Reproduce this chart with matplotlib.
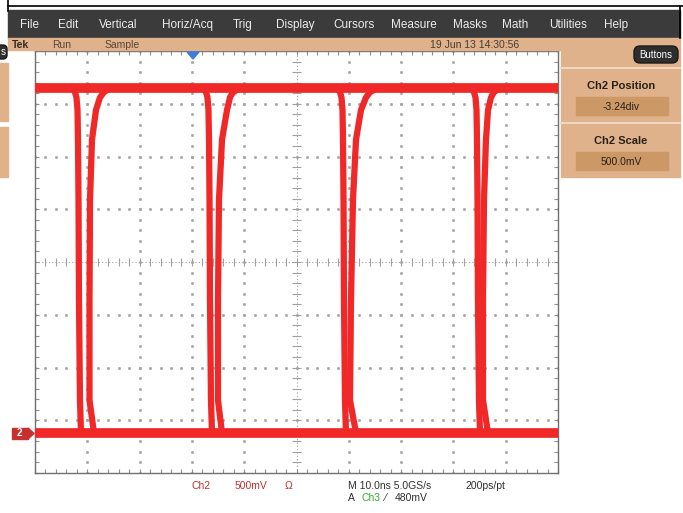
import matplotlib.pyplot as plt
from matplotlib.patches import Rectangle, FancyBboxPatch, Polygon
import numpy as np

# scope settings
time_per_div = 10.0    # ns
volts_per_div = 0.5    # V
ch2_position = -3.24   # div

# signal levels, V
high_level = 3.27
low_level = 0.0

# voltages along each edge (top to bottom), shared by all pulses
edge_volts = [3.27, 3.23, 3.18, 3.06, 2.78, 2.21, 1.26, 0.31, 0.0]

# falling edge times per pulse, ns
fall_times = [
    [7.07, 7.65, 7.93, 8.13, 8.22, 8.32, 8.41, 8.60, 8.80],
    [32.12, 32.70, 32.98, 33.17, 33.27, 33.37, 33.46, 33.65, 33.84],
    [57.74, 58.32, 58.60, 58.80, 58.89, 58.99, 59.08, 59.27, 59.46],
    [83.37, 83.94, 84.23, 84.42, 84.51, 84.61, 84.70, 84.89, 85.09],
]
# rising edge times per pulse, ns
rise_times = [
    [14.34, 13.19, 12.43, 11.66, 10.90, 10.52, 10.42, 10.42, 11.28],
    [39.39, 37.86, 37.28, 36.71, 35.76, 35.18, 34.99, 34.99, 35.76],
    [65.58, 64.05, 63.29, 62.33, 61.38, 60.80, 60.42, 60.23, 61.38],
    [88.91, 87.76, 87.19, 86.62, 86.23, 85.85, 85.66, 85.66, 86.62],
]

menu_items = ['File', 'Edit', 'Vertical', 'Horiz/Acq', 'Trig', 'Display',
              'Cursors', 'Measure', 'Masks', 'Math', 'Utilities', 'Help']
menu_x = [20, 58, 99, 162, 233, 276, 333, 391, 453, 502, 549, 604]

trace_red = '#f02828'
tan = '#dfb28c'
tan_dark = '#cc9866'
font = 'Liberation Sans'


def to_div(volts):
    return np.array(volts) / volts_per_div + ch2_position


fig = plt.figure(figsize=(6.83, 5.13), dpi=100)
fig.patch.set_facecolor('white')

# graticule axes, 10 x 8 divisions
ax = fig.add_axes([35 / 683, 40 / 513, 523 / 683, 422 / 513])
ax.set_xlim(0, 10)
ax.set_ylim(-4, 4)
ax.set_facecolor('white')
for s in ax.spines.values():
    s.set_color('#707070')
    s.set_linewidth(1.0)
ax.set_xticks(np.arange(0, 10.01, 0.2))
ax.set_yticks(np.arange(-4, 4.01, 0.2))
ax.tick_params(direction='in', length=3, width=0.8, color='#909090',
               top=True, right=True, labelbottom=False, labelleft=False)

# dotted grid
dots = np.arange(0, 10.01, 0.2)
dots_y = np.arange(-4, 4.01, 0.2)
for gy in range(-3, 4):
    if gy != 0:
        ax.plot(dots, np.full_like(dots, gy), ls='none', marker='s',
                ms=1.0, color='#a8a8a8', zorder=1)
for gx in range(1, 10):
    if gx != 5:
        ax.plot(np.full_like(dots_y, gx), dots_y, ls='none', marker='s',
                ms=1.0, color='#a8a8a8', zorder=1)
# center lines with ticks
ax.axhline(0, color='#a0a0a0', lw=0.8, ls=(0, (1, 2)), zorder=1)
ax.axvline(5, color='#a0a0a0', lw=0.8, ls=(0, (1, 2)), zorder=1)
ax.vlines(dots, -0.08, 0.08, color='#a0a0a0', lw=0.8, zorder=1)
ax.hlines(dots_y, 4.92, 5.08, color='#a0a0a0', lw=0.8, zorder=1)

# persistence traces
ax.plot([0, 10], to_div([high_level, high_level]), color=trace_red,
        lw=7, solid_capstyle='butt', zorder=3)
ax.plot([0, 10], to_div([low_level, low_level]), color=trace_red,
        lw=7, solid_capstyle='butt', zorder=3)
for ft, rt in zip(fall_times, rise_times):
    for tt in (ft, rt):
        ax.plot(np.array(tt) / time_per_div, to_div(edge_volts),
                color=trace_red, lw=4.5, solid_capstyle='round',
                solid_joinstyle='round', zorder=3)

# user interface around the screen, pixel coordinates
ui = fig.add_axes([0, 0, 1, 1])
ui.set_xlim(0, 683)
ui.set_ylim(513, 0)
ui.axis('off')
ui.patch.set_alpha(0)
ui.set_zorder(3)

# top border lines
ui.plot([8, 683], [6, 6], color='black', lw=1.2)
ui.plot([8, 8], [0, 11], color='black', lw=1.2)
ui.plot([680, 680], [6, 38], color='black', lw=1.2)

# menu bar
ui.add_patch(Rectangle((8, 10), 672, 28, color='#3b3b3b'))
for name, x in zip(menu_items, menu_x):
    ui.text(x, 25, name, color='#ececec', fontsize=8.5, family=font,
            va='center', ha='left')

# status bar
ui.add_patch(Rectangle((8, 38), 672, 12, color=tan))
ui.text(12, 45, 'Tek', color='#3a2a20', fontsize=7.5, family=font,
        va='center', weight='bold')
ui.text(52, 45, 'Run', color='#5a4535', fontsize=7.5, family=font, va='center')
ui.text(105, 45, 'Sample', color='#5a4535', fontsize=7.5, family=font,
        va='center')
ui.text(430, 45, '19 Jun 13 14:30:56', color='#4a3a30', fontsize=7.5,
        family=font, va='center')

# right side panel
ui.add_patch(Rectangle((561, 50), 119, 127, color=tan))
ui.add_patch(FancyBboxPatch((634, 46), 44, 17, boxstyle='round,pad=0,rounding_size=6',
                            fc='#2e2e2e', ec='#1a1a1a', lw=1))
ui.text(656, 55, 'Buttons', color='white', fontsize=7, family=font,
        ha='center', va='center')
ui.plot([561, 680], [68, 68], color='#f0d8c0', lw=1.5)
ui.plot([561, 680], [123, 123], color='#f0d8c0', lw=1.5)
ui.add_patch(Rectangle((576, 97), 92, 18, color=tan_dark))
ui.add_patch(Rectangle((576, 152), 92, 18, color=tan_dark))
ui.text(621, 86, 'Ch2 Position', color='#2a2018', fontsize=8, family=font,
        ha='center', va='center', weight='bold')
ui.text(621, 107, '-3.24div', color='#2a2018', fontsize=7.5, family=font,
        ha='center', va='center')
ui.text(621, 141, 'Ch2 Scale', color='#2a2018', fontsize=8, family=font,
        ha='center', va='center', weight='bold')
ui.text(621, 162, '500.0mV', color='#2a2018', fontsize=7.5, family=font,
        ha='center', va='center')

# left side partial panel
ui.add_patch(FancyBboxPatch((-6, 45), 13, 14, boxstyle='round,pad=0,rounding_size=4',
                            fc='#2e2e2e', ec='#1a1a1a', lw=1))
ui.text(3, 52, 's', color='white', fontsize=7, family=font, ha='center',
        va='center')
ui.add_patch(Rectangle((0, 63), 8, 58, color=tan))
ui.add_patch(Rectangle((0, 127), 8, 50, color=tan))

# trigger position and ground markers
ui.add_patch(Polygon([[187, 52], [199, 52], [193, 59]], closed=True,
                     color='#3d7fd6'))
ui.add_patch(Rectangle((12, 428), 16, 11, color='#c83030'))
ui.add_patch(Polygon([[28, 428], [34, 433.5], [28, 439]], closed=True,
                     color='#c83030'))
ui.text(19, 433.5, '2', color='white', fontsize=7, family=font,
        ha='center', va='center', weight='bold')

# readouts under the screen
ui.text(192, 486, 'Ch2', color='#c03030', fontsize=7.5, family=font, va='center')
ui.text(235, 486, '500mV', color='#c03030', fontsize=7.5, family=font,
        va='center')
ui.text(285, 486, 'Ω', color='#c03030', fontsize=7.5, family=font, va='center')
ui.text(348, 486, 'M 10.0ns 5.0GS/s', color='#303030', fontsize=7.5,
        family=font, va='center')
ui.text(465, 486, '200ps/pt', color='#303030', fontsize=7.5, family=font,
        va='center')
ui.text(348, 498, 'A', color='#303030', fontsize=7.5, family=font, va='center')
ui.text(362, 498, 'Ch3', color='#30b030', fontsize=7.5, family=font, va='center')
ui.text(384, 498, '⁄', color='#303030', fontsize=7.5, family=font, va='center')
ui.text(395, 498, '480mV', color='#303030', fontsize=7.5, family=font,
        va='center')

fig.savefig('out.png', dpi=100)
